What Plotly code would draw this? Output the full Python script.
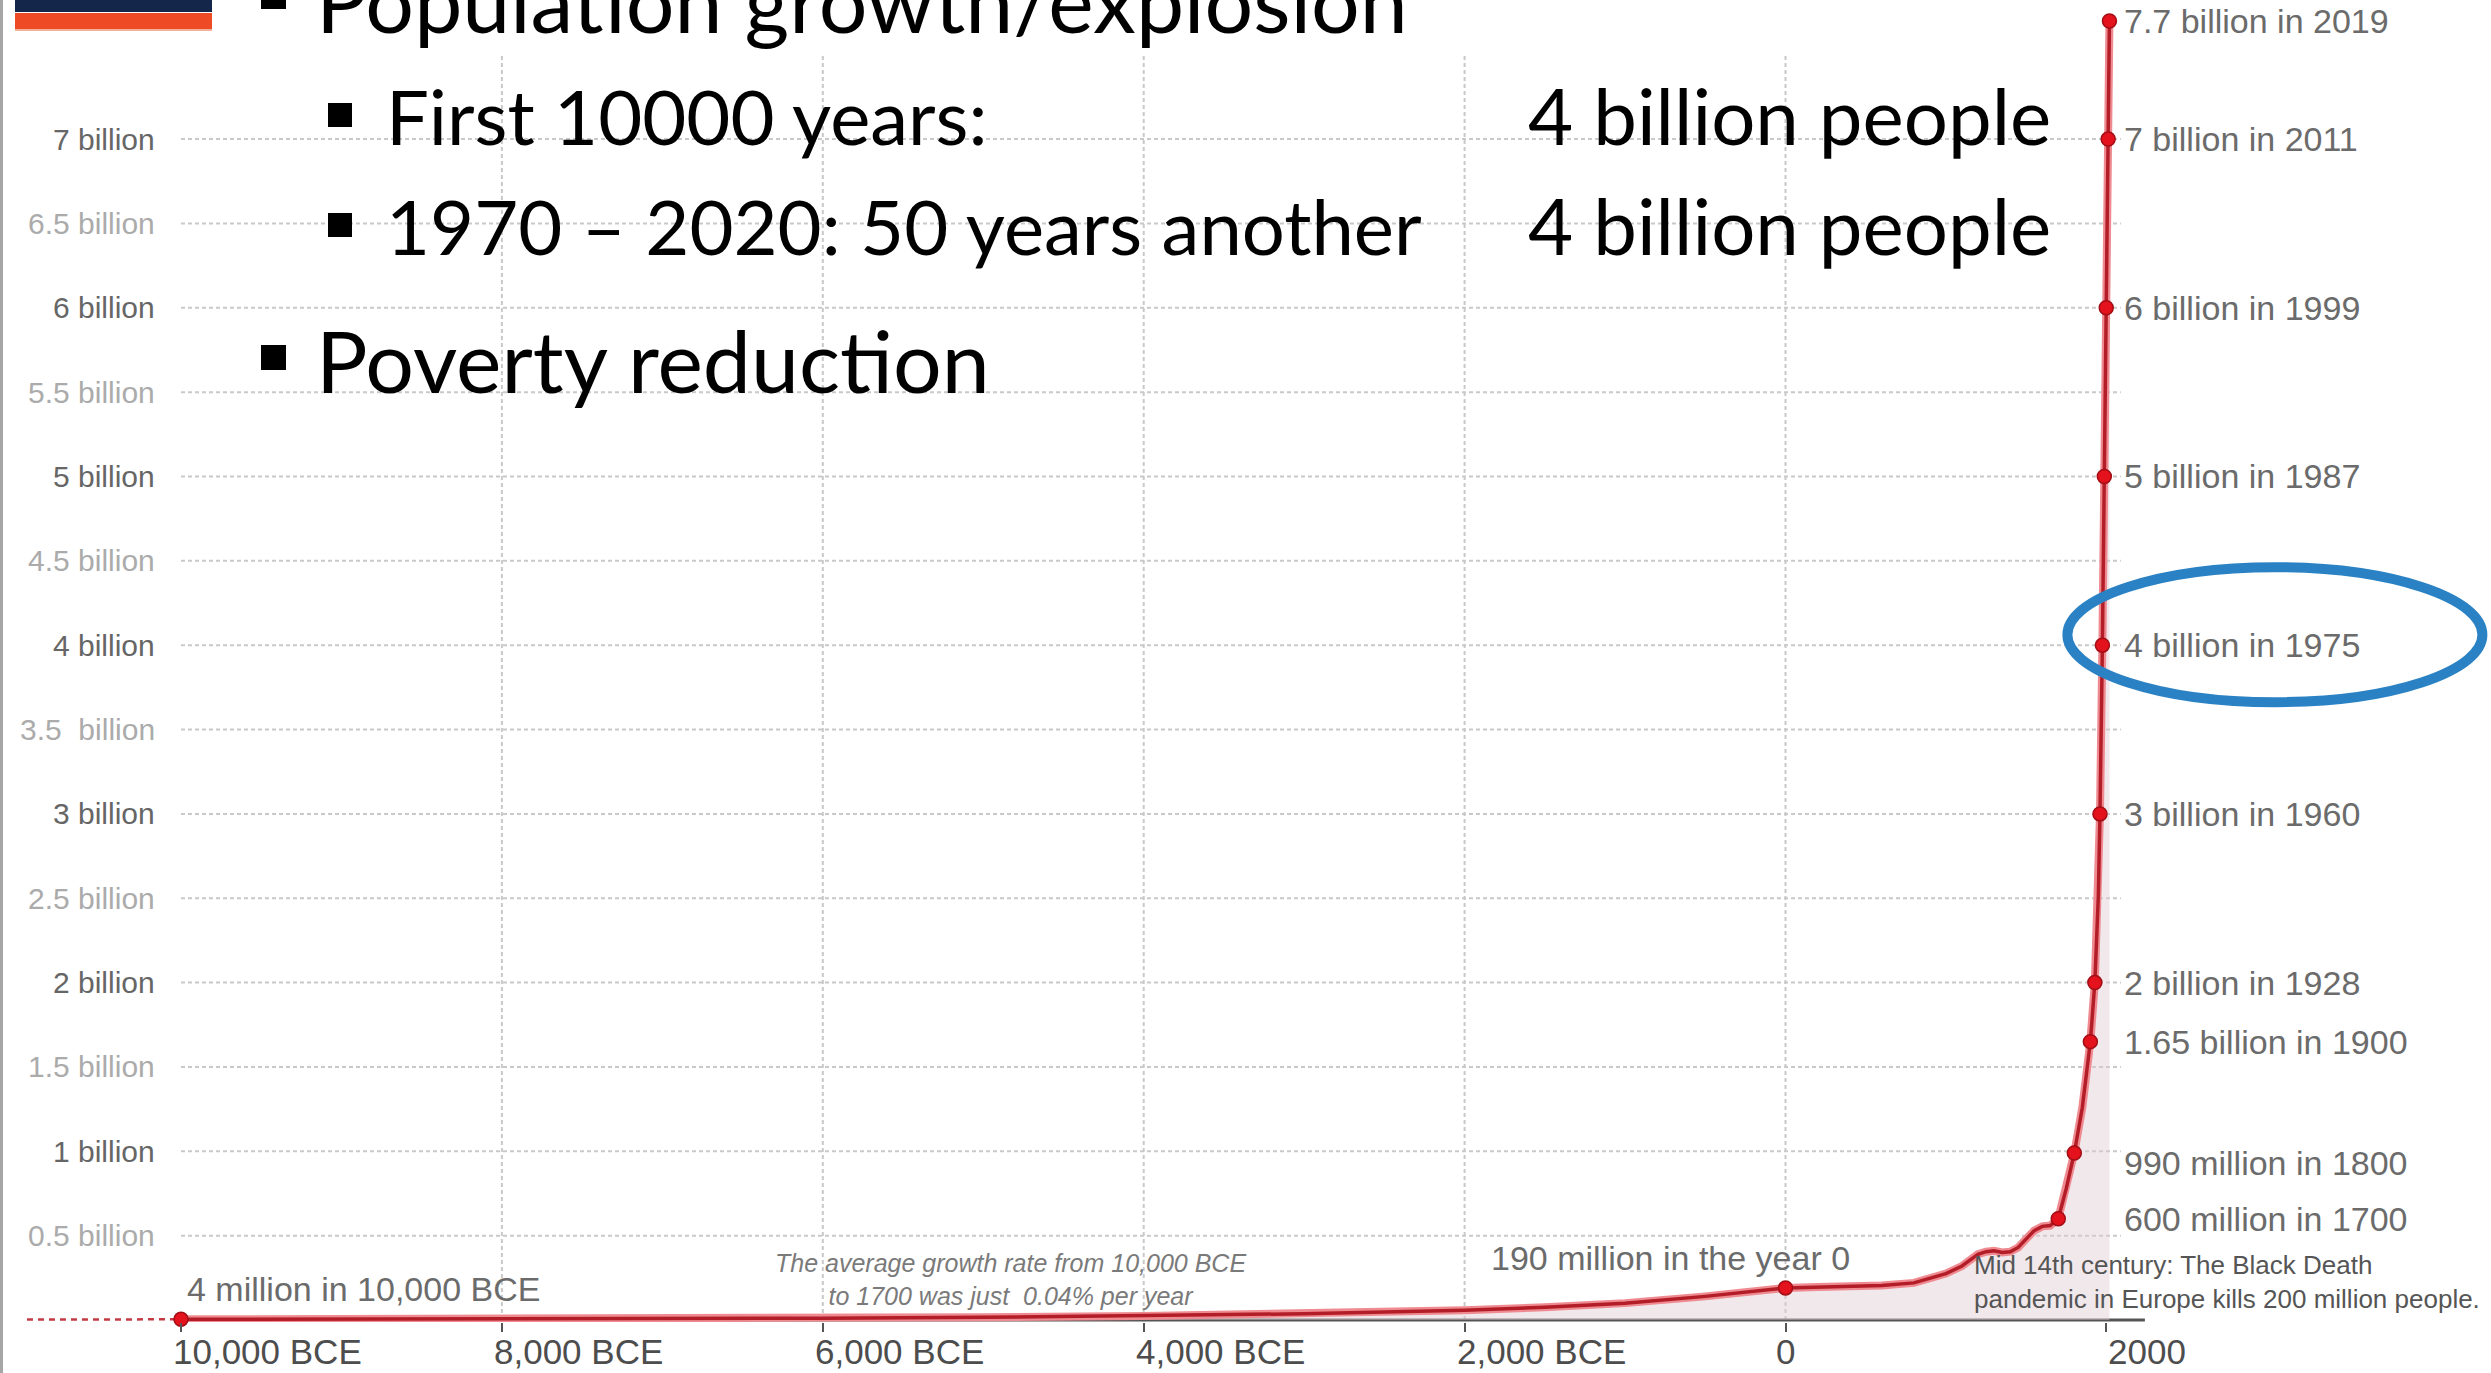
import plotly.graph_objects as go

W, H = 2491, 1373
PLOT_BOTTOM = 51
PLOT_H = H - PLOT_BOTTOM

# ---- data (world population, billions) ----
years = [-10000, -9000, -8000, -7000, -6000, -5000, -4000, -3000, -2000, -1500,
         -1000, -500, 0, 200, 400, 600, 800, 1000, 1100, 1200, 1250, 1300, 1350,
         1400, 1450, 1500, 1550, 1600, 1650, 1700, 1750, 1800, 1850, 1900, 1928,
         1950, 1960, 1975, 1987, 1999, 2011, 2019]
population = [0.004, 0.005, 0.006, 0.008, 0.011, 0.016, 0.024, 0.037, 0.058, 0.075,
              0.100, 0.140, 0.190, 0.196, 0.200, 0.205, 0.220, 0.275, 0.320, 0.390,
              0.405, 0.410, 0.400, 0.405, 0.430, 0.480, 0.530, 0.555, 0.560, 0.600,
              0.780, 0.990, 1.260, 1.650, 2.000, 2.520, 3.000, 4.000, 5.000, 6.000,
              7.000, 7.700]

early_years = [-10960, -10000]
early_population = [0.003, 0.004]

mark_years = [-10000, 0, 1700, 1800, 1900, 1928, 1960, 1975, 1987, 1999, 2011, 2019]
mark_population = [0.004, 0.19, 0.60, 0.99, 1.65, 2.0, 3.0, 4.0, 5.0, 6.0, 7.0, 7.7]
mark_labels = ["4 million in 10,000 BCE", "190 million in the year 0",
               "600 million in 1700", "990 million in 1800", "1.65 billion in 1900",
               "2 billion in 1928", "3 billion in 1960", "4 billion in 1975",
               "5 billion in 1987", "6 billion in 1999", "7 billion in 2011",
               "7.7 billion in 2019"]

y_tick_values = [0.5, 1, 1.5, 2, 2.5, 3, 3.5, 4, 4.5, 5, 5.5, 6, 6.5, 7]
y_tick_labels = ["0.5 billion", "1 billion", "1.5 billion", "2 billion", "2.5 billion",
                 "3 billion", "3.5\u00a0 billion", "4 billion", "4.5 billion", "5 billion",
                 "5.5 billion", "6 billion", "6.5 billion", "7 billion"]
x_tick_values = [-10000, -8000, -6000, -4000, -2000, 0, 2000]
x_tick_labels = ["10,000 BCE", "8,000 BCE", "6,000 BCE", "4,000 BCE", "2,000 BCE", "0", "2000"]
grid_years = [-8000, -6000, -4000, -2000, 0]

# ---- scales ----
PX_PER_YEAR = 0.16045
X_ORIGIN_PX = 181          # where 10,000 BCE sits
x_range = [-10000 - X_ORIGIN_PX / PX_PER_YEAR, -10000 + (W - X_ORIGIN_PX) / PX_PER_YEAR]
ZERO_PX, TOP_PX = 1320, 21
px_per_billion = (ZERO_PX - TOP_PX) / max(mark_population)
y_range = [-(PLOT_H - ZERO_PX) / px_per_billion, max(mark_population) + TOP_PX / px_per_billion]


def pxx(x):
    return x / W


def pxy(y):
    return (PLOT_H - y) / PLOT_H


CHART_FONT = "Liberation Sans, Arial, sans-serif"
SLIDE_FONT = "Lato, Calibri, sans-serif"
RED = "#b31d27"

fig = go.Figure()

fig.add_trace(go.Scatter(x=years, y=population, mode="lines", fill="tozeroy",
                         fillcolor="rgba(222,205,210,0.45)", line=dict(width=0),
                         hoverinfo="skip", showlegend=False))
fig.add_trace(go.Scatter(x=early_years, y=early_population, mode="lines",
                         line=dict(color="#c43a44", width=2.5, dash="6px,5px"),
                         hoverinfo="skip", showlegend=False))
fig.add_trace(go.Scatter(x=years, y=population, mode="lines",
                         line=dict(color="#ee8a90", width=8),
                         hoverinfo="skip", showlegend=False))
fig.add_trace(go.Scatter(x=years, y=population, mode="lines",
                         line=dict(color=RED, width=3.5),
                         hoverinfo="skip", showlegend=False))
fig.add_trace(go.Scatter(x=mark_years, y=mark_population, mode="markers", cliponaxis=False,
                         marker=dict(size=14, color="#e3121c",
                                     line=dict(color="#a30d15", width=1.5)),
                         hoverinfo="skip", showlegend=False))

shapes = []
grid_style = dict(color="#c9c9c9", width=2, dash="4px,3px")
for v in y_tick_values:
    shapes.append(dict(type="line", xref="x", yref="y", x0=-10000, x1=2090, y0=v, y1=v,
                       line=grid_style, layer="below"))
for g in grid_years:
    shapes.append(dict(type="line", xref="x", yref="y", x0=g, x1=g, y0=0, y1=7.5,
                       line=grid_style, layer="below"))
# baseline axis
shapes.append(dict(type="line", xref="x", yref="y", x0=-10000, x1=2240, y0=0, y1=0,
                   line=dict(color="#555555", width=3), layer="below"))
# slide text panel over the chart
shapes.append(dict(type="rect", xref="paper", yref="paper", x0=pxx(214), x1=pxx(1492),
                   y0=pxy(424), y1=pxy(-5), fillcolor="white", line=dict(width=0),
                   layer="below"))
# slide frame and logo
shapes.append(dict(type="rect", xref="paper", yref="paper", x0=0, x1=pxx(3),
                   y0=pxy(H), y1=pxy(0), fillcolor="#a6a6a6", line=dict(width=0), layer="above"))
shapes.append(dict(type="rect", xref="paper", yref="paper", x0=pxx(15), x1=pxx(212),
                   y0=pxy(12), y1=pxy(0), fillcolor="#14264a", line=dict(width=0), layer="above"))
shapes.append(dict(type="rect", xref="paper", yref="paper", x0=pxx(15), x1=pxx(212),
                   y0=pxy(29), y1=pxy(13), fillcolor="#ee4a25", line=dict(width=0), layer="above"))
shapes.append(dict(type="rect", xref="paper", yref="paper", x0=pxx(15), x1=pxx(212),
                   y0=pxy(31), y1=pxy(29), fillcolor="#f2b29a", line=dict(width=0), layer="above"))
# slide bullets
for (x0, x1, y0, y1) in [(261, 286, -15, 9), (328, 352, 103, 127), (328, 352, 213, 237),
                         (261, 286, 345, 370)]:
    shapes.append(dict(type="rect", xref="paper", yref="paper", x0=pxx(x0), x1=pxx(x1),
                       y0=pxy(y1), y1=pxy(y0), fillcolor="black", line=dict(width=0),
                       layer="above"))
# highlight ring around the 1975 milestone
shapes.append(dict(type="circle", xref="x", yref="y", xsizemode="pixel", ysizemode="pixel",
                   xanchor=1975, yanchor=4.0, x0=-35, x1=380, y0=-57, y1=78,
                   line=dict(color="#2a82c4", width=10), layer="above"))

ann = []
# y axis labels
for v, t in zip(y_tick_values, y_tick_labels):
    col = "#666666" if float(v).is_integer() else "#ababab"
    ann.append(dict(xref="paper", yref="y", x=pxx(157), y=v, text=t, showarrow=False,
                    xanchor="right", yanchor="middle",
                    font=dict(family=CHART_FONT, size=30, color=col)))
# x axis labels
for v, t in zip(x_tick_values, x_tick_labels):
    anchor = "center" if t == "0" else "left"
    shift = -10 if "BCE" in t else 0
    ann.append(dict(xref="x", yref="paper", x=v, y=0, text=t, showarrow=False,
                    xanchor=anchor, yanchor="middle", xshift=shift, yshift=-29,
                    font=dict(family=CHART_FONT, size=35, color="#4d4d4d")))
# milestone labels
label_font = dict(family=CHART_FONT, size=34, color="#6b6b6b")
for yr, p, t in zip(mark_years, mark_population, mark_labels):
    if yr == -10000:
        ann.append(dict(xref="x", yref="y", x=yr, y=p, text=t, showarrow=False,
                        xanchor="left", yanchor="middle", xshift=4, yshift=30,
                        font=label_font))
    elif yr == 0:
        ann.append(dict(xref="x", yref="y", x=yr, y=p, text=t, showarrow=False,
                        xanchor="right", yanchor="middle", xshift=66, yshift=30,
                        font=label_font))
    else:
        ann.append(dict(xref="paper", yref="y", x=pxx(2122), y=p, text=t, showarrow=False,
                        xanchor="left", yanchor="middle",
                        yshift=-10 if yr == 1800 else 0, font=label_font))

ann.append(dict(xref="paper", yref="paper", x=pxx(1010), y=pxy(1279),
                text="The average growth rate from 10,000 BCE<br>to 1700 was just  0.04% per year",
                showarrow=False, xanchor="center", yanchor="middle", align="center",
                font=dict(family=CHART_FONT, size=25, color="#7a7a7a", style="italic")))
ann.append(dict(xref="paper", yref="paper", x=pxx(1972), y=pxy(1282),
                text="Mid 14th century: The Black Death<br>pandemic in Europe kills 200 million people.",
                showarrow=False, xanchor="left", yanchor="middle", align="left",
                font=dict(family=CHART_FONT, size=26, color="#555555")))

# slide text


def slide_text(x, baseline, text, size):
    ann.append(dict(xref="paper", yref="paper", x=pxx(x), y=pxy(baseline - 0.387 * size),
                    text=text, showarrow=False, xanchor="left", yanchor="middle",
                    font=dict(family=SLIDE_FONT, size=size, color="black")))


slide_text(314, 33, "Population growth/explosion", 86)
slide_text(384, 145, "First 10000 years:", 76)
slide_text(384, 255, "1970 \u2013 2020: 50 years another", 76)
slide_text(1526, 145, "4 billion people", 78)
slide_text(1526, 255, "4 billion people", 78)
slide_text(314, 393, "Poverty reduction", 86)

fig.update_layout(
    width=W, height=H, margin=dict(l=0, r=0, t=0, b=PLOT_BOTTOM, autoexpand=False),
    paper_bgcolor="white", plot_bgcolor="white", showlegend=False,
    shapes=shapes, annotations=ann,
    xaxis=dict(range=x_range, showgrid=False, zeroline=False, showline=False,
               tickmode="array", tickvals=x_tick_values, showticklabels=False,
               ticks="outside", ticklen=9, tickwidth=2, tickcolor="#555555", fixedrange=True),
    yaxis=dict(range=y_range, visible=False, fixedrange=True),
)

fig.write_html("out.html")
